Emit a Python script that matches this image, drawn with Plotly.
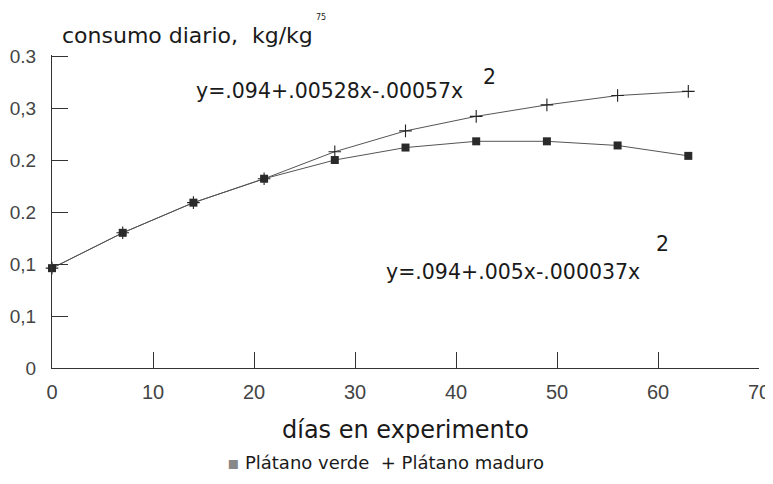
import plotly.graph_objects as go

dias = [0, 7, 14, 21, 28, 35, 42, 49, 56, 63]
platano_verde = [0.096, 0.130, 0.159, 0.182, 0.200, 0.212, 0.218, 0.218, 0.214, 0.204]
platano_maduro = [0.096, 0.130, 0.159, 0.182, 0.208, 0.228, 0.242, 0.253, 0.262, 0.266]
y_tickvals = [0, 0.05, 0.10, 0.15, 0.20, 0.25, 0.30]
y_ticktext = ["0", "0,1", "0,1", "0.2", "0.2", "0,3", "0.3"]
x_tickvals = [0, 10, 20, 30, 40, 50, 60, 70]

FONT = "DejaVu Sans, sans-serif"
TICKFONT = "Liberation Sans, Arial, sans-serif"
INK = "#1a1a1a"

# page has an 8px body margin, so the figure is drawn 8px smaller
W, H = 765, 476
ML, MR, MT, MB = 44, 14, 47, 116

fig = go.Figure()
fig.add_trace(go.Scatter(
    x=dias, y=platano_maduro, mode="lines+markers", name="Plátano maduro",
    line=dict(color="#555", width=1), cliponaxis=False,
    marker=dict(symbol="cross-thin", size=9, line=dict(color="#222", width=1.1))))
fig.add_trace(go.Scatter(
    x=dias, y=platano_verde, mode="lines+markers", name="Plátano verde",
    line=dict(color="#555", width=1), cliponaxis=False,
    marker=dict(symbol="square", size=8, color="#2a2a2a")))

fig.update_layout(
    width=W, height=H,
    margin=dict(l=ML, r=MR, t=MT, b=MB),
    paper_bgcolor="white", plot_bgcolor="white",
    font=dict(family=FONT, color=INK, size=14),
    showlegend=False,
)
fig.update_xaxes(
    range=[0, 70], tickvals=x_tickvals, ticks="inside", ticklen=16, tickwidth=1,
    tickcolor="#333", showline=True, linecolor="#333", linewidth=1.2,
    showgrid=False, zeroline=False,
    tickfont=dict(size=20, color="#444", family=TICKFONT),
    ticklabelstandoff=6, automargin=False,
)
fig.update_yaxes(
    range=[0, 0.301], tickvals=y_tickvals, ticktext=y_ticktext, ticks="inside",
    ticklen=16, tickwidth=1, tickcolor="#333", showline=True, linecolor="#333",
    linewidth=1.2, showgrid=False, zeroline=False, automargin=False,
    tickfont=dict(size=19, color="#444", family=TICKFONT),
    ticklabelstandoff=11,
)

# text positions given in reference page pixels (left edge / centre line)
annots = [
    dict(x=60, y=36, text="consumo diario,  kg/kg", size=22, anchor="left"),
    dict(x=314, y=18, text="75", size=8, anchor="left"),
    dict(x=194, y=91, text="y=.094+.00528x-.00057x", size=20.5, anchor="left"),
    dict(x=481, y=77, text="2", size=20.5, anchor="left"),
    dict(x=384, y=272, text="y=.094+.005x-.000037x", size=20.5, anchor="left"),
    dict(x=654, y=244, text="2", size=20.5, anchor="left"),
    dict(x=405, y=430, text="días en experimento", size=24, anchor="center"),
    dict(x=225, y=462, text="<span style='color:#888'>▪</span> Plátano verde  + Plátano maduro",
         size=18, anchor="left"),
]
plot_w = W - ML - MR
plot_h = H - MT - MB
for a in annots:
    fx, fy = a["x"] - 8, a["y"] - 8
    fig.add_annotation(x=(fx - ML) / plot_w, y=(H - MB - fy) / plot_h,
                       xref="paper", yref="paper", text=a["text"],
                       showarrow=False, xanchor=a["anchor"], yanchor="middle",
                       font=dict(size=a["size"], color=INK, family=FONT))

fig.write_html("out.html")
